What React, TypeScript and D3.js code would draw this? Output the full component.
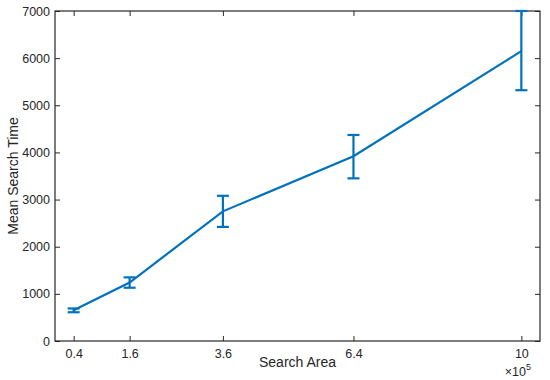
import { useEffect, useRef } from "react";
import * as d3 from "d3";

// search area in units of 1e5
const areas = [0.4, 1.6, 3.6, 6.4, 10];
const meanTimes = [650, 1240, 2750, 3920, 6150];
const errLow = [40, 110, 330, 470, 830];
const errHigh = [40, 110, 330, 450, 850];
const yTicks = [0, 1000, 2000, 3000, 4000, 5000, 6000, 7000];

const W = 550;
const H = 380;
const M = { left: 55, right: 10, top: 11, bottom: 39 };
const BLUE = "#0072BD";
const AX = "#262626";

const App = () => {
  const svgRef = useRef<SVGSVGElement>(null);

  useEffect(() => {
    const svg = d3.select(svgRef.current);
    svg.selectAll("*").remove();

    const x = d3.scaleLinear().domain([0, 10.4]).range([M.left, W - M.right]);
    const y = d3.scaleLinear().domain([0, 7000]).range([H - M.bottom, M.top]);
    const font = "'Liberation Sans', Arial, sans-serif";

    // ticks, inward (bottom + top mirrored)
    const xa = svg.append("g").attr("transform", `translate(0,${H - M.bottom})`)
      .call(d3.axisBottom(x).tickValues(areas).tickSize(-5).tickPadding(8).tickFormat((d) => String(d)));
    const xt = svg.append("g").attr("transform", `translate(0,${M.top})`)
      .call(d3.axisTop(x).tickValues(areas).tickSize(-5).tickFormat(() => ""));
    const ya = svg.append("g").attr("transform", `translate(${M.left},0)`)
      .call(d3.axisLeft(y).tickValues(yTicks).tickSize(-5).tickPadding(5).tickFormat((d) => String(d)));
    const yr = svg.append("g").attr("transform", `translate(${W - M.right},0)`)
      .call(d3.axisRight(y).tickValues(yTicks).tickSize(-5).tickFormat(() => ""));

    [xa, xt, ya, yr].forEach((g) => {
      g.select(".domain").remove();
      g.selectAll("line").attr("stroke", AX);
      g.selectAll("text").attr("fill", AX).style("font-family", font).style("font-size", "12.5px");
    });

    // box
    svg.append("rect")
      .attr("x", M.left).attr("y", M.top)
      .attr("width", W - M.left - M.right).attr("height", H - M.top - M.bottom)
      .attr("fill", "none").attr("stroke", AX).attr("stroke-width", 1.2);

    const pts = areas.map((a, i) => ({ a, m: meanTimes[i], lo: meanTimes[i] - errLow[i], hi: meanTimes[i] + errHigh[i] }));

    svg.append("path")
      .datum(pts)
      .attr("fill", "none").attr("stroke", BLUE).attr("stroke-width", 2.2)
      .attr("d", d3.line<any>().x((d) => x(d.a)).y((d) => y(d.m)));

    const cap = 6;
    const eb = svg.append("g").attr("stroke", BLUE).attr("stroke-width", 2.2).attr("fill", "none");
    pts.forEach((p) => {
      eb.append("line").attr("x1", x(p.a)).attr("x2", x(p.a)).attr("y1", y(p.lo)).attr("y2", y(p.hi));
      eb.append("line").attr("x1", x(p.a) - cap).attr("x2", x(p.a) + cap).attr("y1", y(p.lo)).attr("y2", y(p.lo));
      eb.append("line").attr("x1", x(p.a) - cap).attr("x2", x(p.a) + cap).attr("y1", y(p.hi)).attr("y2", y(p.hi));
    });

    svg.append("text")
      .attr("x", (M.left + W - M.right) / 2).attr("y", 367)
      .attr("text-anchor", "middle").attr("fill", AX)
      .style("font-family", font).style("font-size", "14px")
      .text("Search Area");

    svg.append("text")
      .attr("transform", `translate(18,${(M.top + H - M.bottom) / 2}) rotate(-90)`)
      .attr("text-anchor", "middle").attr("fill", AX)
      .style("font-family", font).style("font-size", "14px")
      .text("Mean Search Time");

    const exp = svg.append("text")
      .attr("x", 531).attr("y", 376)
      .attr("text-anchor", "end").attr("fill", AX)
      .style("font-family", font).style("font-size", "12.5px");
    exp.append("tspan").text("×10");
    exp.append("tspan").attr("dy", -6).style("font-size", "9px").text("5");
  }, []);

  return (
    <svg ref={svgRef} width={W} height={H}
      style={{ position: "absolute", left: 0, top: 0, background: "#fff" }} />
  );
};

export default App;
